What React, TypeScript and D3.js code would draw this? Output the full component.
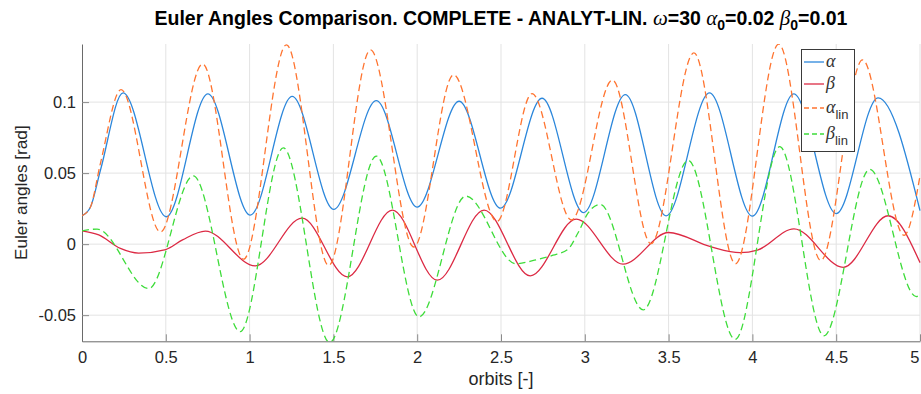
import React, { useRef, useEffect } from "react";
import * as d3 from "d3";

// values (extrema + a few shoulder points)
const alphaX = [0, 0.05, 0.11, 0.245, 0.503, 0.751, 1.004, 1.254, 1.502, 1.756, 2.0, 2.25, 2.497, 2.745, 2.993, 3.242, 3.485, 3.744, 4.0, 4.247, 4.5, 4.75, 5.0];
const alphaY = [0.02, 0.026, 0.052, 0.1065, 0.0193, 0.1058, 0.0204, 0.104, 0.0245, 0.101, 0.0261, 0.1006, 0.0253, 0.1027, 0.0222, 0.1053, 0.0199, 0.1065, 0.0197, 0.1058, 0.0215, 0.103, 0.0236];

const betaX = [0, 0.1, 0.229, 0.338, 0.5, 0.6, 0.736, 1.034, 1.313, 1.583, 1.852, 2.12, 2.399, 2.675, 2.949, 3.228, 3.5, 3.75, 3.926, 4.03, 4.248, 4.542, 4.81, 5.0];
const betaY = [0.0094, 0.0065, -0.003, -0.0063, -0.0038, 0.003, 0.0092, -0.0153, 0.0183, -0.023, 0.024, -0.0254, 0.024, -0.0223, 0.0176, -0.0141, 0.0082, -0.0018, -0.006, -0.0042, 0.0108, -0.0163, 0.02, -0.013];

const alphaLinX = [0, 0.05, 0.109, 0.233, 0.468, 0.72, 0.964, 1.22, 1.472, 1.721, 1.98, 2.217, 2.476, 2.685, 2.92, 3.165, 3.395, 3.651, 3.899, 4.157, 4.408, 4.657, 4.905, 5.0];
const alphaLinY = [0.02, 0.026, 0.0564, 0.1088, 0.0085, 0.1268, -0.0106, 0.1403, -0.015, 0.1367, -0.002, 0.1192, 0.016, 0.106, 0.017, 0.1155, 0.0003, 0.1346, -0.0138, 0.1408, -0.0115, 0.1297, 0.0062, 0.048];

const betaLinX = [0, 0.09, 0.398, 0.664, 0.944, 1.201, 1.478, 1.756, 2.011, 2.29, 2.59, 2.7, 2.81, 2.9, 2.96, 3.02, 3.092, 3.349, 3.617, 3.897, 4.163, 4.427, 4.7, 4.978, 5.0];
const betaLinY = [0.0094, 0.0106, -0.0313, 0.048, -0.0616, 0.0678, -0.0693, 0.062, -0.0512, 0.0338, -0.0138, -0.0113, -0.0078, -0.0035, 0.008, 0.022, 0.028, -0.0463, 0.059, -0.0671, 0.0686, -0.0645, 0.0526, -0.0369, -0.0352];

const xTicks = [0, 0.5, 1, 1.5, 2, 2.5, 3, 3.5, 4, 4.5, 5];
const xTickLabels = ["0", "0.5", "1", "1.5", "2", "2.5", "3", "3.5", "4", "4.5", "5"];
const yTicks = [-0.05, 0, 0.05, 0.1];
const yTickLabels = ["-0.05", "0", "0.05", "0.1"];

const series = [
  { name: "\u03b1", sub: "", xs: alphaX, ys: alphaY, color: "#2c87db", dash: null },
  { name: "\u03b2", sub: "", xs: betaX, ys: betaY, color: "#dc2a44", dash: null },
  { name: "\u03b1", sub: "lin", xs: alphaLinX, ys: alphaLinY, color: "#ff7430", dash: "7,4" },
  { name: "\u03b2", sub: "lin", xs: betaLinX, ys: betaLinY, color: "#3edc3a", dash: "7,4" },
];

const SANS = "'Liberation Sans', Arial, Helvetica, sans-serif";
const SERIF = "'Liberation Serif', 'DejaVu Serif', serif";

const App = () => {
  const svgRef = useRef<SVGSVGElement>(null);
  const width = 921;
  const height = 394;

  useEffect(() => {
    const svg = d3.select(svgRef.current);
    svg.selectAll("*").remove();

    const x = d3.scaleLinear().domain([0, 5]).range([82, 920]);
    const y = d3.scaleLinear().domain([-0.0684, 0.1409]).range([341.3, 44]);
    const [x0, x1] = x.range();
    const [y0, y1] = y.range();

    // grid
    const grid = svg.append("g").attr("stroke", "#e3e3e3").attr("stroke-width", 1);
    xTicks.filter((t) => t > 0).forEach((t) => {
      grid.append("line").attr("x1", x(t)).attr("x2", x(t)).attr("y1", y1).attr("y2", y0);
    });
    yTicks.forEach((t) => {
      grid.append("line").attr("x1", x0).attr("x2", x1).attr("y1", y(t)).attr("y2", y(t));
    });

    // axes, ticks pointing inwards like matlab
    const xAxis = d3.axisBottom(x)
      .tickValues(xTicks)
      .tickFormat((d, i) => xTickLabels[i])
      .tickSizeInner(-7)
      .tickSizeOuter(0)
      .tickPadding(10);
    const yAxis = d3.axisLeft(y)
      .tickValues(yTicks)
      .tickFormat((d, i) => yTickLabels[i])
      .tickSizeInner(-7)
      .tickSizeOuter(0)
      .tickPadding(6);

    const gx = svg.append("g").attr("transform", `translate(0, ${y0})`).call(xAxis);
    const gy = svg.append("g").attr("transform", `translate(${x0}, 0)`).call(yAxis);
    [gx, gy].forEach((g) => {
      g.select(".domain").attr("stroke", "#6a6a6a").attr("stroke-width", 1);
      g.selectAll(".tick line").attr("stroke", "#8a8a8a");
      g.selectAll(".tick text")
        .attr("fill", "#262626")
        .style("font-family", SANS)
        .style("font-size", "16.5px");
    });
    // last x label sits on the figure edge, keep it inside
    gx.selectAll(".tick text").filter((d) => d === 5).attr("text-anchor", "end").attr("dx", -1);

    // curves
    svg.append("clipPath").attr("id", "plotClip")
      .append("rect")
      .attr("x", x0).attr("y", y1)
      .attr("width", x1 - x0 + 1).attr("height", y0 - y1);

    const plot = svg.append("g").attr("clip-path", "url(#plotClip)");
    series.forEach((s) => {
      const line = d3.line<number>()
        .x((d, i) => x(s.xs[i]))
        .y((d) => y(d))
        .curve(d3.curveMonotoneX);
      plot.append("path")
        .datum(s.ys)
        .attr("fill", "none")
        .attr("stroke", s.color)
        .attr("stroke-width", 1.3)
        .attr("stroke-dasharray", s.dash)
        .attr("d", line);
    });

    // title
    const title = svg.append("text")
      .attr("x", (x0 + x1) / 2)
      .attr("y", 25)
      .attr("text-anchor", "middle")
      .style("font-family", SANS)
      .style("font-size", "19.5px")
      .style("font-weight", "bold")
      .style("white-space", "pre")
      .attr("fill", "#000");
    const greek = (ch: string) =>
      title.append("tspan")
        .style("font-family", SERIF)
        .style("font-style", "italic")
        .style("font-weight", "normal")
        .style("font-size", "21px")
        .text(ch);
    title.append("tspan").text("Euler Angles Comparison. COMPLETE - ANALYT-LIN. ");
    greek("\u03c9");
    title.append("tspan").text("=30 ");
    greek("\u03b1");
    title.append("tspan").attr("dy", 5).style("font-size", "14px").text("0");
    title.append("tspan").attr("dy", -5).text("=0.02 ");
    greek("\u03b2");
    title.append("tspan").attr("dy", 5).style("font-size", "14px").text("0");
    title.append("tspan").attr("dy", -5).text("=0.01");

    // axis labels
    svg.append("text")
      .attr("x", (x0 + x1) / 2)
      .attr("y", 385)
      .attr("text-anchor", "middle")
      .attr("fill", "#262626")
      .style("font-family", SANS)
      .style("font-size", "18px")
      .text("orbits [-]");
    svg.append("text")
      .attr("transform", `translate(27, ${(y0 + y1) / 2}) rotate(-90)`)
      .attr("text-anchor", "middle")
      .attr("fill", "#262626")
      .style("font-family", SANS)
      .style("font-size", "17.2px")
      .text("Euler angles [rad]");

    // legend
    const legend = svg.append("g");
    legend.append("rect")
      .attr("x", 801.5).attr("y", 49.5)
      .attr("width", 53).attr("height", 102)
      .attr("fill", "#fff")
      .attr("stroke", "#3a3a3a")
      .attr("stroke-width", 1);
    const rowY = [62, 84, 108, 134];
    series.forEach((s, i) => {
      const ly = rowY[i];
      legend.append("line")
        .attr("x1", 804).attr("x2", 824)
        .attr("y1", ly).attr("y2", ly)
        .attr("stroke", s.color)
        .attr("stroke-width", 1.3)
        .attr("stroke-dasharray", s.dash ? "5,3" : null);
      const t = legend.append("text")
        .attr("x", 826)
        .attr("y", ly + 5)
        .attr("fill", "#333");
      t.append("tspan")
        .style("font-family", SERIF)
        .style("font-style", "italic")
        .style("font-size", "18px")
        .text(s.name);
      if (s.sub) {
        t.append("tspan")
          .attr("dy", 6)
          .style("font-family", SANS)
          .style("font-size", "13px")
          .text(s.sub);
      }
    });
  }, []);

  return (
    <svg
      ref={svgRef}
      width={width}
      height={height}
      style={{ position: "absolute", left: 0, top: 0, background: "#fff" }}
    ></svg>
  );
};

export default App;
